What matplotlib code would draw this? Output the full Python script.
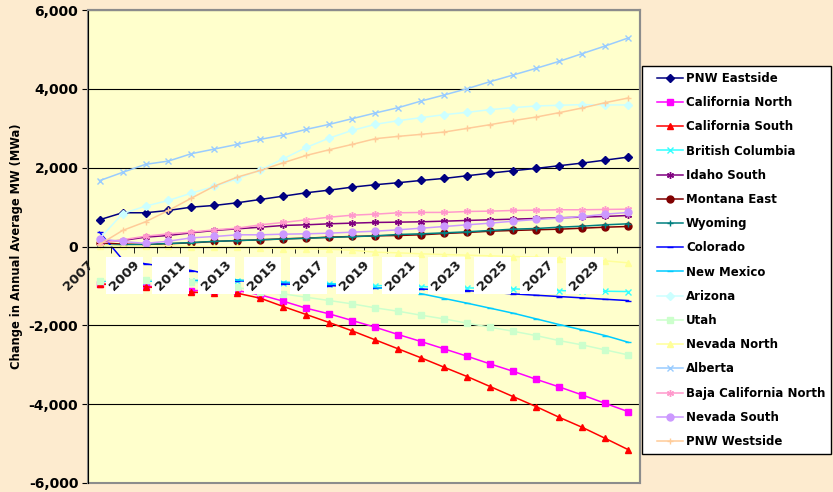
import matplotlib
matplotlib.use("Agg")
import matplotlib.pyplot as plt
from matplotlib.lines import Line2D
from matplotlib.legend_handler import HandlerLine2D
from matplotlib.patches import Rectangle
from matplotlib.transforms import offset_copy, IdentityTransform
from matplotlib.ticker import FuncFormatter

plt.rcParams['font.family'] = ['DejaVu Sans']
plt.rcParams['font.weight'] = 'bold'

years = list(range(2007, 2031))

# Change in annual average MW per area, 2007-2030
pnw_eastside = [678, 856, 856, 915, 999, 1042, 1110, 1194, 1278, 1364, 1431, 1507,
                1568, 1619, 1677, 1728, 1796, 1863, 1924, 1982, 2051, 2117, 2193, 2269]
california_north = [-949, -980, -1000, -1060, -1118, -1118, -1118, -1228, -1390, -1568, -1711, -1880,
                    -2050, -2236, -2414, -2600, -2787, -2982, -3169, -3372, -3565, -3769, -3982, -4193]
california_south = [-950, -985, -1016, -1090, -1160, -1175, -1186, -1313, -1525, -1728, -1931, -2143,
                    -2371, -2600, -2829, -3067, -3303, -3557, -3812, -4066, -4337, -4591, -4871, -5158]
british_columbia = [-880, -880, -880, -875, -870, -870, -864, -890, -923, -930, -940, -960,
                    -990, -1000, -1016, -1033, -1050, -1062, -1075, -1097, -1118, -1135, -1135, -1143]
idaho_south = [135, 152, 237, 280, 347, 407, 449, 490, 534, 551, 576, 593,
               610, 618, 627, 643, 661, 678, 694, 711, 729, 745, 762, 788]
montana_east = [93, 60, 50, 70, 93, 127, 152, 170, 195, 212, 237, 254,
                271, 280, 297, 330, 356, 389, 407, 424, 440, 465, 490, 508]
wyoming = [20, 40, 55, 75, 100, 130, 150, 170, 190, 210, 230, 250,
           270, 305, 322, 347, 373, 407, 440, 457, 490, 516, 551, 576]
colorado = [364, -330, -440, -520, -610, -740, -864, -900, -950, -970, -990, -1020,
            -1050, -1065, -1080, -1100, -1120, -1160, -1203, -1237, -1270, -1304, -1339, -1372]
new_mexico = [-880, -880, -875, -870, -860, -855, -850, -880, -906, -920, -950, -990,
              -1040, -1110, -1200, -1320, -1440, -1567, -1694, -1838, -1982, -2117, -2262, -2431]
arizona = [200, 831, 1025, 1169, 1355, 1525, 1720, 1948, 2228, 2516, 2753, 2948,
           3100, 3194, 3270, 3346, 3405, 3473, 3524, 3566, 3583, 3600, 3591, 3591]
utah = [-864, -860, -847, -855, -900, -960, -1033, -1160, -1203, -1288, -1372, -1457,
        -1558, -1644, -1745, -1838, -1948, -2050, -2152, -2262, -2389, -2498, -2625, -2752]
nevada_north = [25, 10, 5, 25, 0, -17, -17, -34, -51, -59, -70, -95,
                -144, -161, -186, -203, -220, -237, -254, -271, -305, -330, -364, -415]
alberta = [1670, 1880, 2084, 2168, 2355, 2473, 2592, 2719, 2829, 2973, 3100, 3245,
           3388, 3524, 3693, 3846, 4007, 4185, 4353, 4523, 4700, 4896, 5090, 5293]
baja_california_north = [85, 170, 262, 322, 364, 424, 465, 551, 610, 678, 745, 795,
                         821, 856, 864, 865, 889, 897, 915, 922, 932, 932, 940, 948]
nevada_south = [195, 127, 80, 135, 220, 254, 297, 297, 313, 322, 339, 364,
                389, 424, 465, 508, 551, 593, 643, 686, 720, 762, 821, 864]
pnw_westside = [50, 406, 627, 915, 1228, 1533, 1762, 1931, 2126, 2312, 2456, 2592,
                2736, 2795, 2846, 2905, 2998, 3092, 3194, 3286, 3397, 3516, 3651, 3769]

series = [
    ("PNW Eastside", pnw_eastside, "#000080", "D"),
    ("California North", california_north, "#FF00FF", "s"),
    ("California South", california_south, "#FF0000", "^"),
    ("British Columbia", british_columbia, "#33FFFF", "x"),
    ("Idaho South", idaho_south, "#800080", (6, 2, 0)),
    ("Montana East", montana_east, "#800000", "o"),
    ("Wyoming", wyoming, "#008080", "+"),
    ("Colorado", colorado, "#0000FF", "_"),
    ("New Mexico", new_mexico, "#00CCFF", "_"),
    ("Arizona", arizona, "#CCFFFF", "D"),
    ("Utah", utah, "#CCFFCC", "s"),
    ("Nevada North", nevada_north, "#FFFF99", "^"),
    ("Alberta", alberta, "#99CCFF", "x"),
    ("Baja California North", baja_california_north, "#FF99CC", (6, 2, 0)),
    ("Nevada South", nevada_south, "#CC99FF", "o"),
    ("PNW Westside", pnw_westside, "#FFCC99", "+"),
]

fig = plt.figure(figsize=(8.33, 4.92), dpi=100, facecolor="#FDEBCF")
ax = fig.add_axes([88 / 833, 9 / 492, 552 / 833, 473 / 492])
ax.set_facecolor("#FFFFCC")

x = list(range(len(years)))
handles = []
for name, vals, color, marker in series:
    ms = 4.5 if marker == "D" else 5
    line, = ax.plot(x, vals, color=color, marker=marker, markersize=ms,
                    markeredgewidth=1.0, linewidth=1.1, label=name, zorder=2)
    handles.append(line)

ax.set_xlim(-0.5, len(years) - 0.5)
ax.set_ylim(-6000, 6000)
ax.set_yticks(range(-6000, 6001, 2000))
ax.yaxis.set_major_formatter(FuncFormatter(lambda v, p: f"{v:,.0f}"))
ax.tick_params(axis="y", direction="out", length=4, labelsize=10, pad=3)
ax.yaxis.grid(True, color="black", linewidth=0.8)
ax.set_axisbelow(True)
ax.set_ylabel("Change in Annual Average MW (MWa)", fontsize=8.3, fontweight="bold", labelpad=4)

# category axis crosses at zero
ax.spines["bottom"].set_position(("data", 0))
ax.spines["bottom"].set_color("black")
ax.spines["left"].set_color("black")
for s in ("top", "right"):
    ax.spines[s].set_color("#8C8C8C")
    ax.spines[s].set_linewidth(1.5)
ax.add_patch(Rectangle((0, 0), 1, 1, transform=ax.transAxes, fill=False,
                       edgecolor="#8C8C8C", linewidth=1.5, clip_on=False, zorder=1))
ax.set_xticks([i + 0.5 for i in range(-1, len(years))], minor=True)
ax.set_xticks([])
ax.tick_params(axis="x", which="minor", direction="out", length=4, color="black")

# rotated year labels in white boxes
lab_tr = offset_copy(ax.transData, fig=fig, x=-15, y=-21, units="points")
year_labels = []
for k in range(0, len(years), 2):
    t = ax.text(x[k], 0, str(years[k]), transform=lab_tr, rotation=45,
                ha="center", va="center", fontsize=9.5, fontweight="bold",
                color="#1A1A1A", zorder=6, clip_on=False)
    year_labels.append(t)

leg = fig.legend(handles=handles, loc="upper left", bbox_to_anchor=(642 / 833, 1 - 66 / 492),
                 prop={"weight": "bold", "size": 8.5}, frameon=True, fancybox=False,
                 edgecolor="black", facecolor="white", framealpha=1,
                 handlelength=2.97, handletextpad=0.26, labelspacing=0.95,
                 borderpad=0.5, borderaxespad=0,
                 handler_map={Line2D: HandlerLine2D(xpad=0.76, numpoints=1)})
leg.get_frame().set_linewidth(1.0)

fig.canvas.draw()
renderer = fig.canvas.get_renderer()
for t in year_labels[1:]:
    bb = t.get_window_extent(renderer)
    ax.add_patch(Rectangle((bb.x0 - 1, bb.y0 - 1), bb.width + 2, bb.height + 2,
                           transform=IdentityTransform(), facecolor="white",
                           edgecolor="none", zorder=5, clip_on=False))

fig.savefig("out.png", dpi=100, facecolor=fig.get_facecolor())
